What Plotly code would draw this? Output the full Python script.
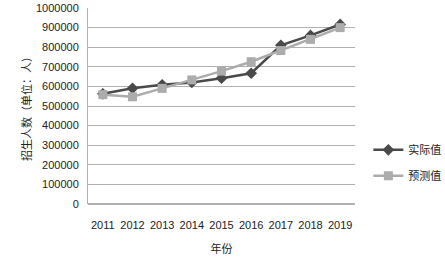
import plotly.graph_objects as go

years = ["2011", "2012", "2013", "2014", "2015", "2016", "2017", "2018", "2019"]
actual = [562000, 590000, 608000, 620000, 642000, 667000, 810000, 860000, 916000]
predicted = [558000, 547000, 590000, 633000, 678000, 726000, 783000, 840000, 900000]
y_ticks = [0, 100000, 200000, 300000, 400000, 500000, 600000, 700000, 800000, 900000, 1000000]

fig = go.Figure()
fig.add_trace(go.Scatter(x=years, y=actual, name="实际值", mode="lines+markers", legendgroup="a",
                         line=dict(color="#4a4a4a", width=2.5),
                         marker=dict(symbol="diamond", size=9, color="#4a4a4a")))
fig.add_trace(go.Scatter(x=years, y=predicted, name="预测值", mode="lines+markers", legendgroup="b",
                         line=dict(color="#acacac", width=2.5),
                         marker=dict(symbol="square", size=9, color="#acacac")))

fig.update_layout(
    width=445, height=260,
    margin=dict(l=88, r=90, t=8, b=56, autoexpand=False),
    paper_bgcolor="white", plot_bgcolor="white",
    font=dict(family="Liberation Sans, Noto Sans CJK SC", size=11, color="#222"),
    showlegend=True,
    legend=dict(x=1.05, y=0.21, xanchor="left", yanchor="middle",
                font=dict(size=11, family="Noto Sans CJK SC"),
                tracegroupgap=7, itemwidth=30, bgcolor="rgba(0,0,0,0)"),
    xaxis=dict(type="category", showgrid=False, showline=False, ticks="", automargin=False,
               tickfont=dict(size=11), range=[-0.5, 8.5], ticklabelstandoff=13,
               title=dict(text="年份", font=dict(size=11, family="Noto Sans CJK SC"), standoff=15)),
    yaxis=dict(range=[0, 1000000], tickvals=y_ticks, ticktext=[str(v) for v in y_ticks],
               showgrid=True, gridcolor="#b0b0b0", gridwidth=1, automargin=False,
               showline=True, linecolor="#b0b0b0", ticks="", zeroline=True, zerolinecolor="#b0b0b0",
               tickfont=dict(size=11), ticklabelstandoff=6,
               title=dict(text="招生人数（单位：人）", font=dict(size=11, family="Noto Sans CJK SC"), standoff=2)),
)

fig.write_html("out.html", config={"displayModeBar": False},
               post_script="document.body.style.margin='0';document.body.style.padding='0';")
